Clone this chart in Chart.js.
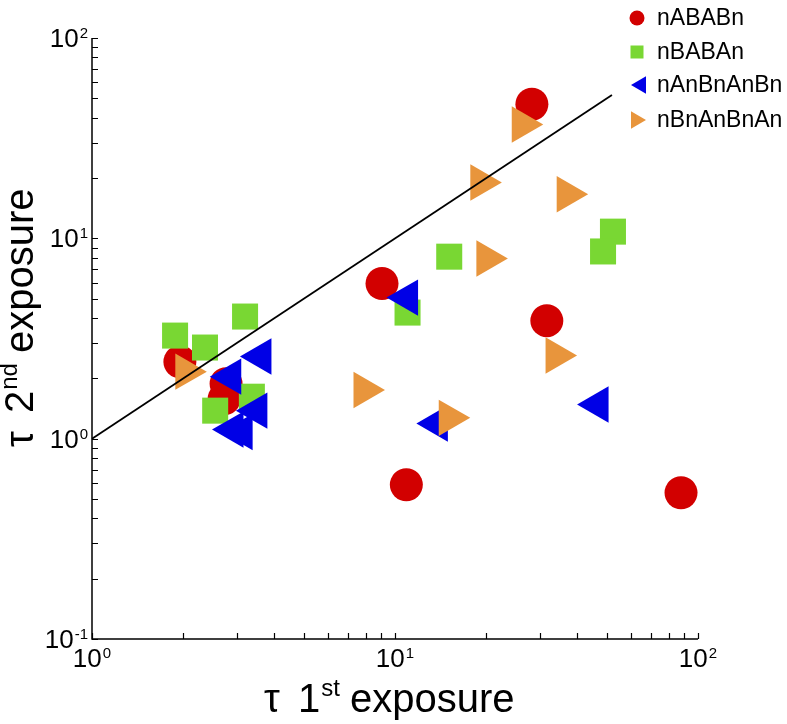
<!DOCTYPE html>
<html>
<head>
<meta charset="utf-8">
<script src="https://cdn.jsdelivr.net/npm/chart.js@4.4.0/dist/chart.umd.min.js"></script>
<style>
  body { margin: 0; background: #fff; }
  #wrap { width: 787px; height: 724px; }
</style>
</head>
<body>
<div id="wrap"><canvas id="tauChart" width="787" height="724"></canvas></div>
<script>
// series names and colours
const seriesNames = ["nABABn", "nBABAn", "nAnBnAnBn", "nBnAnBnAn"]
const seriesColors = ["#d20000", "#79d733", "#0000e6", "#e8953c"]

// tau 1st exposure (x) / tau 2nd exposure (y)
const nABABnX = [1.95, 2.77, 2.73, 9.06, 31.7, 10.9, 28.3, 87.9]
const nABABnY = [2.42, 1.88, 1.58, 5.95, 3.88, 0.589, 46.7, 0.537]

const nBABAnX = [1.88, 2.36, 3.2, 3.37, 2.55, 11.0, 15.1, 52.4, 48.6]
const nBABAnY = [3.27, 2.85, 4.07, 1.62, 1.38, 4.26, 8.1, 10.8, 8.6]

const nAnBnAnBnX = [3.61, 2.87, 3.5, 2.92, 3.13, 11.0, 13.8, 46.8]
const nAnBnAnBnY = [2.57, 2.04, 1.38, 1.11, 1.08, 5.06, 1.19, 1.48]

const nBnAnBnAnX = [2.04, 20.1, 34.0, 7.9, 15.1, 26.3, 19.2, 37.0]
const nBnAnBnAnY = [2.16, 7.93, 2.6, 1.75, 1.27, 37.0, 19.0, 16.6]

// y = x reference line
const refLineX = [1, 52]
const refLineY = [1, 52]

// axis tick labels (powers of ten)
const xTickExps = [0, 1, 2]
const yTickExps = [-1, 0, 1, 2]

const toPoints = (xs, ys) => xs.map((x, i) => ({ x: x, y: ys[i] }))

const FONT = "'Liberation Sans', Arial, sans-serif"

// draw a marker the same way for legend keys
function drawMarker(ctx, style, x, y, r, color) {
  ctx.fillStyle = color
  ctx.beginPath()
  if (style === "circle") {
    ctx.arc(x, y, r, 0, Math.PI * 2)
  } else if (style === "rect") {
    ctx.rect(x - r, y - r, 2 * r, 2 * r)
  } else {
    const dir = style === "left" ? -1 : 1
    ctx.moveTo(x + dir * r, y)
    ctx.lineTo(x - dir * r * 0.5, y - r * 0.866)
    ctx.lineTo(x - dir * r * 0.5, y + r * 0.866)
    ctx.closePath()
  }
  ctx.fill()
}

function powerLabel(ctx, exp, x, y, align) {
  ctx.font = "26px " + FONT
  const base = "10"
  const wBase = ctx.measureText(base).width
  ctx.font = "15px " + FONT
  const sup = String(exp)
  const wSup = ctx.measureText(sup).width
  const total = wBase + 1 + wSup
  let x0 = x - total / 2
  if (align === "right") x0 = x - total
  ctx.textAlign = "left"
  ctx.textBaseline = "alphabetic"
  ctx.font = "26px " + FONT
  ctx.fillText(base, x0, y)
  ctx.font = "15px " + FONT
  ctx.fillText(sup, x0 + wBase + 1, y - 9)
}

function axisTitle(ctx, num, sup) {
  ctx.textAlign = "left"
  ctx.textBaseline = "alphabetic"
  ctx.font = "40px " + FONT
  ctx.fillText("\u03c4", 0, 0)
  let x = 34
  ctx.fillText(num, x, 0)
  x += ctx.measureText(num).width + 1
  ctx.font = "24px " + FONT
  ctx.fillText(sup, x, -16)
  x += ctx.measureText(sup).width + 10
  ctx.font = "40px " + FONT
  ctx.fillText("exposure", x, 0)
}

const decorPlugin = {
  id: "decor",
  afterDraw(chart) {
    const ctx = chart.ctx
    const area = chart.chartArea
    const xs = chart.scales.x
    const ys = chart.scales.y
    ctx.save()
    ctx.strokeStyle = "#000"
    ctx.fillStyle = "#000"

    // axes
    ctx.lineWidth = 1.5
    ctx.beginPath()
    ctx.moveTo(area.left, area.top)
    ctx.lineTo(area.left, area.bottom)
    ctx.lineTo(area.right, area.bottom)
    ctx.stroke()

    // inward ticks at 1..9 x 10^k
    ctx.lineWidth = 1.2
    ctx.beginPath()
    for (let e = 0; e <= 1; e++) {
      for (let m = 1; m <= 10; m++) {
        const px = Math.round(xs.getPixelForValue(m * Math.pow(10, e))) + 0.5
        ctx.moveTo(px, area.bottom)
        ctx.lineTo(px, area.bottom - 6)
      }
    }
    for (let e = -1; e <= 1; e++) {
      for (let m = 1; m <= 10; m++) {
        const py = Math.round(ys.getPixelForValue(m * Math.pow(10, e))) + 0.5
        ctx.moveTo(area.left, py)
        ctx.lineTo(area.left + 6, py)
      }
    }
    ctx.stroke()

    // tick labels
    xTickExps.forEach((e) => powerLabel(ctx, e, xs.getPixelForValue(Math.pow(10, e)), area.bottom + 28, "center"))
    yTickExps.forEach((e) => powerLabel(ctx, e, area.left - 4, ys.getPixelForValue(Math.pow(10, e)) + 9, "right"))

    // axis titles
    ctx.save()
    ctx.translate(264, 712)
    axisTitle(ctx, "1", "st")
    ctx.restore()
    ctx.save()
    ctx.translate(33, 447)
    ctx.rotate(-Math.PI / 2)
    axisTitle(ctx, "2", "nd")
    ctx.restore()

    // legend
    const keyStyles = ["circle", "rect", "left", "right"]
    const keyX = [637, 637, 641, 636]
    const keyR = [7.5, 6.5, 10, 10]
    const rowY = [18, 52, 85, 120]
    ctx.font = "23px " + FONT
    seriesNames.forEach((name, i) => {
      drawMarker(ctx, keyStyles[i], keyX[i], rowY[i], keyR[i], seriesColors[i])
      ctx.fillStyle = "#000"
      ctx.textAlign = "left"
      ctx.textBaseline = "middle"
      ctx.fillText(name, 657, rowY[i] + 1)
    })
    ctx.restore()
  },
}

const ctx = document.getElementById("tauChart")
new Chart(ctx, {
  type: "scatter",
  data: {
    datasets: [
      {
        label: "y = x",
        data: toPoints(refLineX, refLineY),
        showLine: true,
        borderColor: "#000",
        borderWidth: 1.8,
        pointRadius: 0,
        order: 0,
      },
      {
        label: seriesNames[3],
        data: toPoints(nBnAnBnAnX, nBnAnBnAnY),
        backgroundColor: seriesColors[3],
        pointStyle: "triangle",
        pointRotation: 90,
        pointRadius: 21,
        pointBorderWidth: 0,
        order: 1,
      },
      {
        label: seriesNames[2],
        data: toPoints(nAnBnAnBnX, nAnBnAnBnY),
        backgroundColor: seriesColors[2],
        pointStyle: "triangle",
        pointRotation: -90,
        pointRadius: 21,
        pointBorderWidth: 0,
        order: 2,
      },
      {
        label: seriesNames[1],
        data: toPoints(nBABAnX, nBABAnY),
        backgroundColor: seriesColors[1],
        pointStyle: "rect",
        pointRadius: 18.4,
        pointBorderWidth: 0,
        order: 3,
      },
      {
        label: seriesNames[0],
        data: toPoints(nABABnX, nABABnY),
        backgroundColor: seriesColors[0],
        pointStyle: "circle",
        pointRadius: 16.5,
        pointBorderWidth: 0,
        order: 4,
      },
    ],
  },
  options: {
    responsive: false,
    animation: false,
    clip: false,
    layout: {
      autoPadding: false,
      padding: { left: 0, top: 38, right: 89, bottom: 0 },
    },
    scales: {
      x: {
        type: "logarithmic",
        min: 1,
        max: 100,
        grid: { display: false },
        border: { display: false },
        ticks: { display: false },
        afterFit: (scale) => {
          scale.height = 85
        },
      },
      y: {
        type: "logarithmic",
        min: 0.1,
        max: 100,
        grid: { display: false },
        border: { display: false },
        ticks: { display: false },
        afterFit: (scale) => {
          scale.width = 92
        },
      },
    },
    plugins: {
      legend: { display: false },
      tooltip: { enabled: false },
    },
  },
  plugins: [decorPlugin],
})
</script>
</body>
</html>
